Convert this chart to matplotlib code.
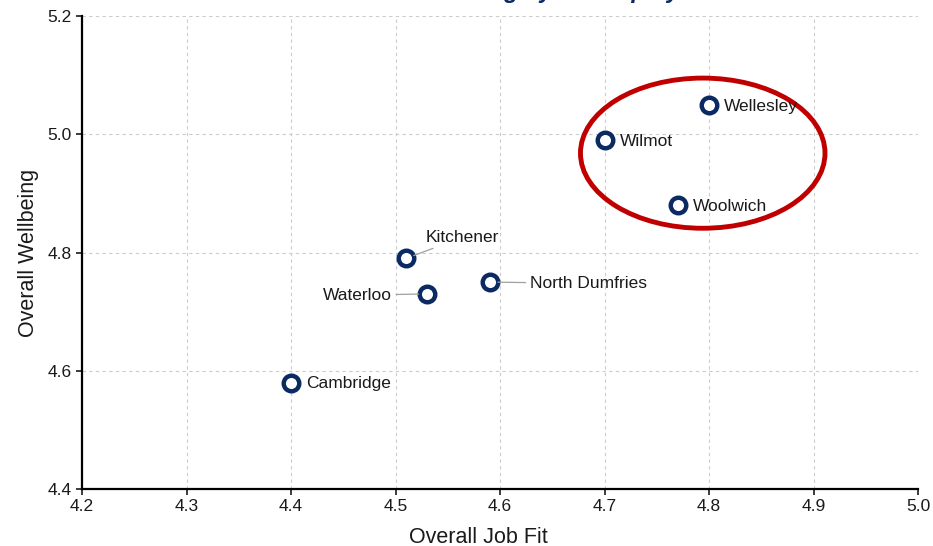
# Job fit vs wellbeing by municipality, townships circled.

import matplotlib
matplotlib.use('Agg')
import matplotlib.pyplot as plt
from matplotlib.patches import Ellipse

places = ['Wellesley', 'Wilmot', 'Woolwich', 'Kitchener', 'Waterloo',
          'North Dumfries', 'Cambridge']
job_fit = [4.80, 4.70, 4.77, 4.51, 4.53, 4.59, 4.40]
wellbeing = [5.05, 4.99, 4.88, 4.79, 4.73, 4.75, 4.58]

x_ticks = [4.2, 4.3, 4.4, 4.5, 4.6, 4.7, 4.8, 4.9, 5.0]
y_ticks = [4.4, 4.6, 4.8, 5.0, 5.2]

NAVY = '#0b2a63'
RED = '#c00000'

plt.rcParams['font.family'] = ['Liberation Sans', 'DejaVu Sans']

fig = plt.figure(figsize=(9.33, 5.46), dpi=100)
ax = fig.add_axes([82 / 933, 57 / 546, 836 / 933, 473 / 546])

ax.scatter(job_fit, wellbeing, s=125, facecolor='white', edgecolor=NAVY,
           linewidth=3.2, zorder=4)

# label offsets in points, and whether a leader line is drawn
offsets = {
    'Wellesley': ((11, -1), 'left', False),
    'Wilmot': ((11, -1), 'left', False),
    'Woolwich': ((11, -1), 'left', False),
    'Kitchener': ((14, 15), 'left', True),
    'Waterloo': ((-25, -1), 'right', True),
    'North Dumfries': ((29, -1), 'left', True),
    'Cambridge': ((11, -1), 'left', False),
}
for name, xv, yv in zip(places, job_fit, wellbeing):
    off, ha, leader = offsets[name]
    props = dict(arrowstyle='-', color='#a0a0a0', lw=0.9,
                 shrinkA=1, shrinkB=6) if leader else None
    ax.annotate(name, (xv, yv), xytext=off, textcoords='offset points',
                ha=ha, va='center', fontsize=12.5, color='#1a1a1a',
                arrowprops=props, zorder=5)

ax.add_patch(Ellipse((4.794, 4.968), 0.234, 0.254, fill=False,
                     edgecolor=RED, lw=3.5, zorder=3))

ax.set_xlim(4.2, 5.0)
ax.set_ylim(4.4, 5.2)
ax.set_xticks(x_ticks)
ax.set_yticks(y_ticks)
ax.set_xticklabels(['{:.1f}'.format(v) for v in x_ticks])
ax.set_yticklabels(['{:.1f}'.format(v) for v in y_ticks])
ax.tick_params(labelsize=12.5, colors='#1a1a1a', length=4, width=1.2)
ax.grid(True, linestyle=(0, (3, 3)), color='#cccccc', lw=0.8)
ax.set_axisbelow(True)

for side in ['top', 'right']:
    ax.spines[side].set_visible(False)
for side in ['left', 'bottom']:
    ax.spines[side].set_linewidth(1.6)

ax.set_xlabel('Overall Job Fit', fontsize=15.5, color='#1a1a1a')
ax.xaxis.set_label_coords(0.474, -0.08)
ax.set_ylabel('Overall Wellbeing', fontsize=15.5, color='#1a1a1a', labelpad=6)

# chart title sits above the visible area, only its descenders show
fig.text(0.547, 1.0 + 2 / 546, 'Rural Areas Rank Highly on Employee Fit',
         ha='center', va='baseline', fontsize=17, fontweight='bold',
         fontstyle='italic', color=NAVY)

fig.savefig('out.png', dpi=100)
